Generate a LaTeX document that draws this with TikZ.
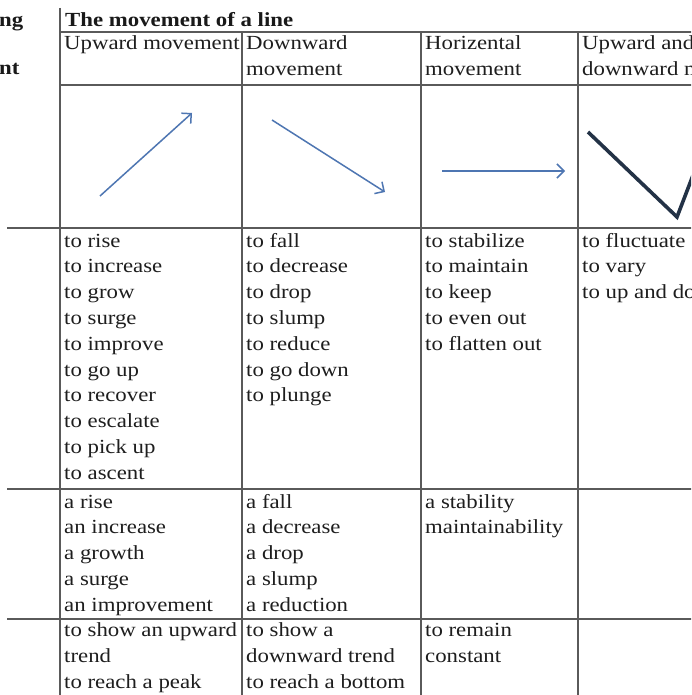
\documentclass[tikz,border=0pt]{standalone}
\usepackage{fontspec}
\setmainfont{Liberation Serif}[FakeStretch=1.14]
\usetikzlibrary{arrows.meta}
\definecolor{rulec}{RGB}{90,90,90}
\definecolor{txtc}{RGB}{30,30,30}
\definecolor{arrc}{RGB}{78,118,178}
\definecolor{vlinec}{RGB}{35,50,70}
\tikzset{
  gridline/.style={draw=rulec, line width=1.8pt},
  cellt/.style={anchor=base west, inner sep=0pt, text=txtc, font=\fontsize{20}{25.8}\selectfont},
  titlet/.style={anchor=base west, inner sep=0pt, text=black!90, font=\fontsize{20}{25.8}\selectfont\bfseries},
  mvarrow/.style={draw=arrc, line width=1.5pt, -{Straight Barb[length=7pt,width=14pt,line width=1.5pt]}},
  vshape/.style={draw=vlinec, line width=3.6pt, line join=miter},
}
\newcommand{\cellrows}[4]{%
  \foreach \t [count=\i] in {#4} {\node[cellt] (#1-\i) at (#2, {#3+(\i-1)*25.8}) {\t};}}
\begin{document}
\begin{tikzpicture}[x=1pt,y=-1pt]
\useasboundingbox (0,0) rectangle (691,695);
\clip (0,0) rectangle (691,695);
\fill[white] (0,0) rectangle (691,695);

% grid
\draw[gridline] (60,8) -- (60,700);
\foreach \x in {242,421,578} \draw[gridline] (\x,32) -- (\x,700);
\foreach \y in {32,85} \draw[gridline] (60,\y) -- (700,\y);
\foreach \y in {228,489,619} \draw[gridline] (7,\y) -- (700,\y);

% left clipped labels and title
\node[titlet] (lng) at (-1,27) {ng};
\node[titlet] (lnt) at (-1,75) {nt};
\node[titlet] (title) at (65,27) {The movement of a line};

% header
\cellrows{h1}{64}{50}{Upward movement}
\cellrows{h2}{246}{50}{Downward,movement}
\cellrows{h3}{425}{50}{Horizental,movement}
\cellrows{h4}{582}{50}{Upward and,downward movement}

% arrows
\coordinate (u1) at (100,196); \coordinate (u2) at (192,113);
\coordinate (d1) at (272,120); \coordinate (d2) at (385,192);
\coordinate (r1) at (442,171); \coordinate (r2) at (565,171);
\coordinate (v1) at (588,132); \coordinate (v2) at (677,217); \coordinate (v3) at (700,157);
\draw[mvarrow] (u1) -- (u2);
\draw[mvarrow] (d1) -- (d2);
\draw[mvarrow] (r1) -- (r2);
\draw[vshape] (v1) -- (v2) -- (v3);

% verbs
\cellrows{a1}{64}{247}{to rise,to increase,to grow,to surge,to improve,to go up,to recover,to escalate,to pick up,to ascent}
\cellrows{a2}{246}{247}{to fall,to decrease,to drop,to slump,to reduce,to go down,to plunge}
\cellrows{a3}{425}{247}{to stabilize,to maintain,to keep,to even out,to flatten out}
\cellrows{a4}{582}{247}{to fluctuate,to vary,to up and down}

% nouns
\cellrows{b1}{64}{508}{a rise,an increase,a growth,a surge,an improvement}
\cellrows{b2}{246}{508}{a fall,a decrease,a drop,a slump,a reduction}
\cellrows{b3}{425}{508}{a stability,maintainability}

% phrases
\cellrows{c1}{64}{636.5}{to show an upward,trend,to reach a peak}
\cellrows{c2}{246}{636.5}{to show a,downward trend,to reach a bottom}
\cellrows{c3}{425}{636.5}{to remain,constant}
\end{tikzpicture}
\end{document}
